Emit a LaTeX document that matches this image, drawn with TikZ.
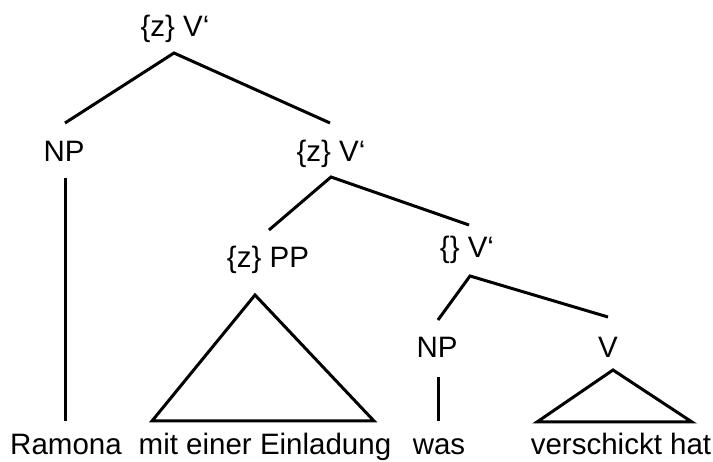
\documentclass[tikz,border=0pt]{standalone}
\usepackage{fontspec}
\setmainfont{Liberation Sans}
\begin{document}
\begin{tikzpicture}[x=1pt,y=-1pt,
  lbl/.style={anchor=base,inner sep=0pt,font=\fontsize{29.5}{34}\selectfont},
  edge/.style={line width=3pt}]
\useasboundingbox (0,0) rectangle (713,462);
% labels
\node[lbl] (v1) at (175,37) {\{z\} V‘};
\node[lbl] (np1) at (64,162) {NP};
\node[lbl] (v2) at (331,162) {\{z\} V‘};
\node[lbl] (pp) at (268,268) {\{z\} PP};
\node[lbl] (v3) at (467,258) {\{\} V‘};
\node[lbl] (np2) at (437,358) {NP};
\node[lbl] (vv) at (608,358) {V};
\node[lbl] (w1) at (66,455) {Ramona};
\node[lbl] (w2) at (265,455) {mit einer Einladung};
\node[lbl] (w3) at (439,455) {was};
\node[lbl] (w4) at (621,455) {verschickt hat};
% connector end points
\coordinate (v1b) at (174,53);
\coordinate (np1t) at (65,123);
\coordinate (v2t) at (330,123);
\coordinate (np1b) at (65,178);
\coordinate (w1t) at (65,421);
\coordinate (v2b) at (331,177);
\coordinate (ppt) at (269,230);
\coordinate (v3t) at (469,225);
\coordinate (ppa) at (255,295);
\coordinate (ppl) at (152,421);
\coordinate (ppr) at (374,421);
\coordinate (v3b) at (470,276);
\coordinate (np2t) at (438,320);
\coordinate (vvt) at (608,317);
\coordinate (np2b) at (438,377);
\coordinate (w3t) at (438,421);
\coordinate (vva) at (613,370);
\coordinate (vvl) at (537,422);
\coordinate (vvr) at (692,422);
% edges
\draw[edge] (np1t) -- (v1b) -- (v2t);
\draw[edge] (np1b) -- (w1t);
\draw[edge] (ppt) -- (v2b) -- (v3t);
\draw[edge] (ppa) -- (ppl) -- (ppr) -- cycle;
\draw[edge] (np2t) -- (v3b) -- (vvt);
\draw[edge] (np2b) -- (w3t);
\draw[edge] (vva) -- (vvl) -- (vvr) -- cycle;
\end{tikzpicture}
\end{document}
